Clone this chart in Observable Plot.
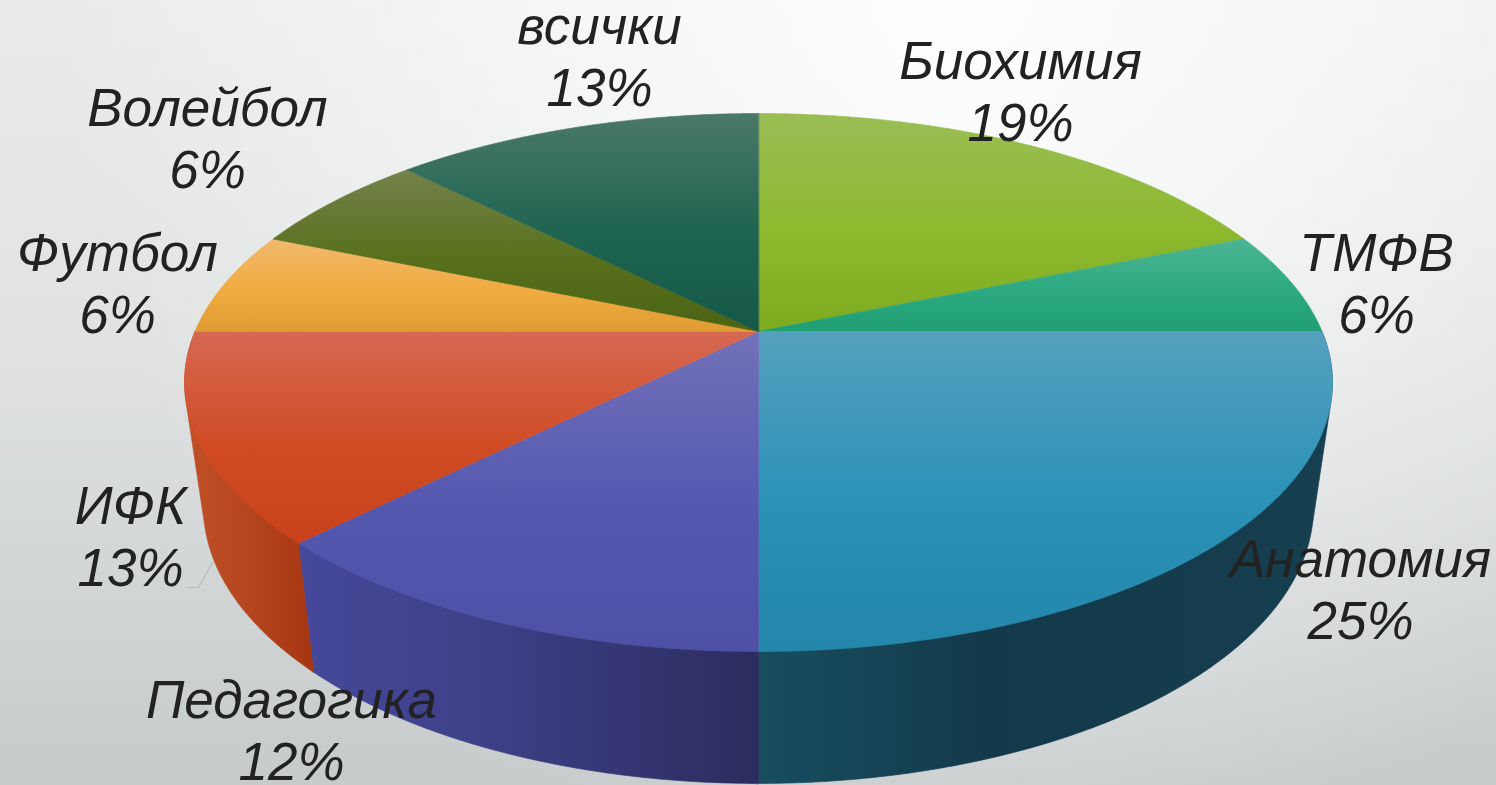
<!DOCTYPE html>
<html><head><meta charset="utf-8">
<script src="https://cdn.jsdelivr.net/npm/d3@7"></script>
<script src="https://cdn.jsdelivr.net/npm/@observablehq/plot@0.6"></script>
<style>html,body{margin:0;padding:0;background:#e4e6e6;overflow:hidden}svg{display:block}</style>
</head><body><div id="chart"></div>
<script>
// Data: shares of the pie, clockwise from 12 o'clock (sixteenths of the whole)
const categories = ["Биохимия","ТМФВ","Анатомия","Педагогика","ИФК","Футбол","Волейбол","всички"];
const shares     = [3,1,4,2,2,1,1,2];
const percentLabels = ["19%","6%","25%","12%","13%","6%","6%","13%"];
// Label anchor of each category (centre x, baseline of the last line)
const labelX = [1020,1376,1360,291,130,117,207,599];
const labelY = [142,334,640,781,587,334,189,107];
// Face colours: top / middle / bottom of the lit top face
const faceTop = ["#9bbe55","#4bb492","#55a0be","#7371b9","#d66852","#f0b96e","#73824b","#4b7869"];
const faceMid = ["#8cb92d","#2daa82","#2a91b7","#5458af","#d04b23","#f0ac41","#58701c","#1e6450"];
const faceEnd = ["#7daa1e","#1e9e73","#2486aa","#4e50a5","#c8411a","#e09b32","#4b6414","#165848"];
// Side wall colours: left end / middle / right end
const wallLeft  = {"Анатомия":"#174e60","Педагогика":"#46489a","ИФК":"#c05026"};
const wallMid   = {"Анатомия":"#13394a","Педагогика":"#3e4088","ИФК":"#b8481f"};
const wallRight = {"Анатомия":"#163f50","Педагогика":"#2c2c5e","ИФК":"#a63612"};
const leaderX = [187,198,212], leaderY = [587,587,562];

const W = 1496, H = 785;
// Perspective of the disc
const cx = 758, cy = 331, rx = 563.5, ry = 259.3, k = 0.1896;
const bottom = {cy: 454, sx: 0.967, sy: 1.028};
function pt(a, s = {cy, sx: 1, sy: 1}) {
  const u = Math.sin(a), v = Math.cos(a), w = 1 + k * v;
  return {x: cx + s.sx * rx * u / w, y: s.cy - s.sy * ry * v / w};
}
const total = d3.sum(shares);
const arcs = d3.pairs(d3.cumsum([0, ...shares]).map(c => c / total * 2 * Math.PI));
function arcPts(a0, a1, s) {
  const n = Math.max(8, Math.ceil((a1 - a0) / 0.01));
  return d3.range(n + 1).map(i => pt(a0 + (a1 - a0) * i / n, s));
}
const tops = arcs.map(([a0, a1]) => [{x: cx, y: cy}, ...arcPts(a0, a1)]);
// Wall of a front slice: convex hull of its top rim and bottom rim, the top face covers the rest
const walls = arcs.map(([a0, a1], i) => {
  if (!wallLeft[categories[i]]) return null;
  const rims = [...arcPts(a0, a1), ...arcPts(a0, a1, bottom)];
  return d3.polygonHull(rims.map(p => [p.x, p.y])).map(([x, y]) => ({x, y}));
});

const defs = () => {
  const d = d3.create("svg:defs");
  const bgA = d.append("linearGradient").attr("id","bgV").attr("x2",0).attr("y2",1);
  [["0%","#eaecec"],["45%","#e0e2e2"],["100%","#c6cacb"]].forEach(([o,c]) => bgA.append("stop").attr("offset",o).attr("stop-color",c));
  const bgR = d.append("radialGradient").attr("id","bgR").attr("gradientUnits","userSpaceOnUse")
    .attr("cx",950).attr("cy",0).attr("r",900);
  bgR.append("stop").attr("offset","0%").attr("stop-color","#fff").attr("stop-opacity",0.95);
  bgR.append("stop").attr("offset","100%").attr("stop-color","#fff").attr("stop-opacity",0);
  categories.forEach((c,i) => {
    const g = d.append("linearGradient").attr("id",`face${i}`).attr("x2",0).attr("y2",1);
    [[0,faceTop[i]],[0.55,faceMid[i]],[1,faceEnd[i]]].forEach(([o,col]) => g.append("stop").attr("offset",o).attr("stop-color",col));
    if (wallLeft[c]) {
      const h = d.append("linearGradient").attr("id",`wall${i}`);
      [[0,wallLeft[c]],[0.4,wallMid[c]],[1,wallRight[c]]].forEach(([o,col]) => h.append("stop").attr("offset",o).attr("stop-color",col));
    }
  });
  return d.node();
};

const corners = [{x:-4,y:-4},{x:W+4,y:-4},{x:W+4,y:H+4},{x:-4,y:H+4}];
const polygon = (pts, fill, seam = 0) => Plot.line(pts, {x:"x", y:"y", fill, stroke: seam ? fill : "none", strokeWidth: seam, curve:"linear-closed"});

const labels = categories.map((c,i) => ({text:`${c}\n${percentLabels[i]}`, x:labelX[i], y:labelY[i]}));
const chart = Plot.plot({
  width: W, height: H, margin: 0,
  x: {domain:[0,W], range:[0,W], axis:null},
  y: {domain:[0,H], range:[0,H], axis:null},
  style: {background:"transparent"},
  marks: [
    defs,
    polygon(corners, "url(#bgV)"),
    polygon(corners, "url(#bgR)"),
    ...walls.map((w,i) => w && polygon(w, `url(#wall${i})`, 0.7)).filter(Boolean),
    ...tops.map((t,i) => polygon(t, `url(#face${i})`, 0.7)),
    Plot.line(leaderX.map((x,i)=>({x,y:leaderY[i]})), {x:"x",y:"y",stroke:"#b8baba",strokeWidth:1.2}),
    Plot.text(labels, {x:"x", y:"y", text:"text", fontSize:53, fontStyle:"italic",
      fontFamily:"'Liberation Sans',Arial,sans-serif", fill:"#222", textAnchor:"middle",
      lineAnchor:"bottom", lineHeight:1.17, dy:-1.5})
  ]
});
document.getElementById("chart").append(chart);
</script></body></html>
